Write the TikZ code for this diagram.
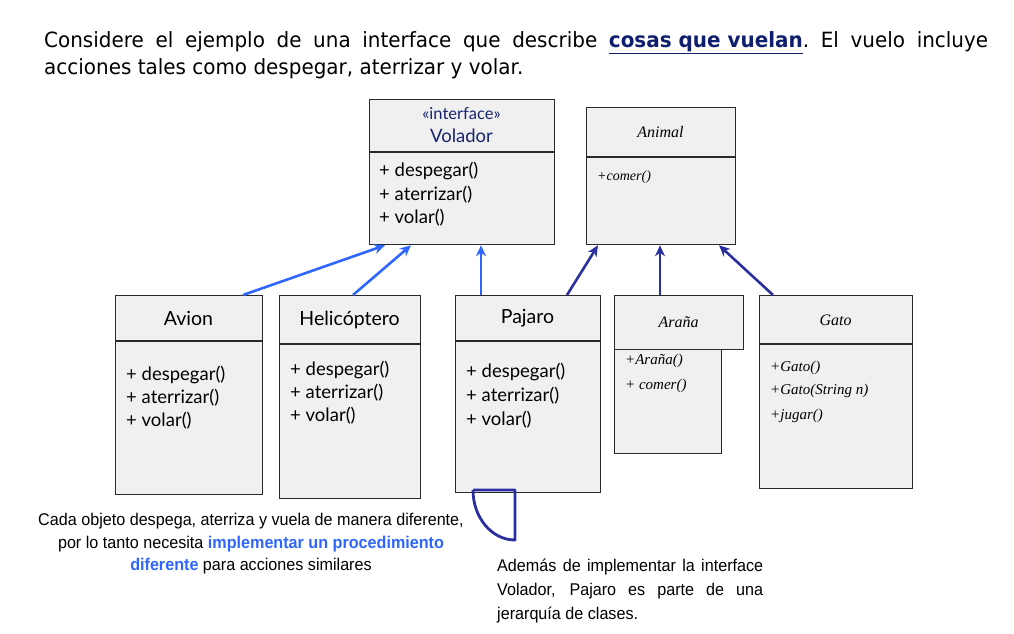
\documentclass[tikz,border=0pt]{standalone}
\usepackage{fontspec}
\setmainfont{Liberation Sans}
\newfontfamily\topfont[FakeStretch=0.95]{DejaVu Sans}
\newfontfamily\notefont[FakeStretch=0.95]{Liberation Sans}
\newfontfamily\umlfont{Lato}
\newfontfamily\handfont{Liberation Serif}
\usetikzlibrary{arrows.meta}
\definecolor{boxfill}{HTML}{F0F0F0}
\definecolor{boxline}{HTML}{2A2A2A}
\definecolor{implblue}{HTML}{2F66FF}
\definecolor{inhnavy}{HTML}{2B2E9E}
\definecolor{titlenavy}{HTML}{16256E}
\definecolor{notenavy}{HTML}{0F1F6E}
\tikzset{
  uml/.style={draw=boxline, line width=1.3pt, fill=boxfill, inner sep=0pt, anchor=north west},
  divider/.style={draw=boxline, line width=1.3pt},
  ttl/.style={inner sep=0pt, font=\umlfont\fontsize{19.5}{22}\selectfont},
  mth/.style={inner sep=0pt, anchor=west, font=\umlfont\fontsize{18.5}{20}\selectfont},
  sttl/.style={inner sep=0pt, font=\handfont\itshape\fontsize{16}{18}\selectfont},
  smth/.style={inner sep=0pt, anchor=west, font=\handfont\itshape\fontsize{15}{18}\selectfont},
  impl/.style={draw=implblue, line width=2.6pt, -{Stealth[length=11pt,width=10pt]}},
  inh/.style={draw=inhnavy, line width=2.6pt, -{Stealth[length=11pt,width=10pt]}},
}
\begin{document}
\begin{tikzpicture}[x=1pt,y=-1pt]
\useasboundingbox (0,0) rectangle (1014,634);

% top paragraph
\node[anchor=north west, inner sep=0pt, text width=944pt, align=justify,
      font=\topfont\fontsize{21}{27}\selectfont\frenchspacing] (intro) at (44,31)
  {Considere el ejemplo de una interface que describe
   {\color{notenavy}\underline{\textbf{cosas que vuelan}}}. El vuelo incluye\linebreak
   acciones tales como despegar, aterrizar y volar.};

% ---- Volador
\node[uml, minimum width=185pt, minimum height=145pt] (vol) at (369,99) {};
\draw[divider] ([yshift=-53pt]vol.north west) -- ([yshift=-53pt]vol.north east);
\node[inner sep=0pt, text=titlenavy, font=\umlfont\fontsize{16.5}{18}\selectfont] (volst) at (461.5,114) {«interface»};
\node[inner sep=0pt, text=titlenavy, font=\umlfont\fontsize{18.5}{20}\selectfont] (volt) at (461.5,136) {Volador};
\node[mth] (vm1) at (379,171) {+ despegar()};
\node[mth] (vm2) at (379,195) {+ aterrizar()};
\node[mth] (vm3) at (379,218) {+ volar()};

% ---- Animal
\node[uml, minimum width=149pt, minimum height=137pt] (ani) at (586,107) {};
\draw[divider] ([yshift=-50pt]ani.north west) -- ([yshift=-50pt]ani.north east);
\node[sttl] (anit) at (660.5,132) {Animal};
\node[smth, font=\handfont\itshape\fontsize{14}{16}\selectfont] (anm1) at (597,177) {+comer()};

% ---- Avion
\node[uml, minimum width=147pt, minimum height=199pt] (avi) at (115,295) {};
\draw[divider] ([yshift=-46pt]avi.north west) -- ([yshift=-46pt]avi.north east);
\node[ttl] (avit) at (188.5,318) {Avion};
\node[mth] (am1) at (126,375) {+ despegar()};
\node[mth] (am2) at (126,398) {+ aterrizar()};
\node[mth] (am3) at (126,421) {+ volar()};

% ---- Helicoptero
\node[uml, minimum width=141pt, minimum height=203pt] (hel) at (279,295) {};
\draw[divider] ([yshift=-49pt]hel.north west) -- ([yshift=-49pt]hel.north east);
\node[ttl] (helt) at (349.5,320) {Helicóptero};
\node[mth] (hm1) at (290,370) {+ despegar()};
\node[mth] (hm2) at (290,393) {+ aterrizar()};
\node[mth] (hm3) at (290,416) {+ volar()};

% ---- Pajaro
\node[uml, minimum width=145pt, minimum height=197pt] (paj) at (455,295) {};
\draw[divider] ([yshift=-46pt]paj.north west) -- ([yshift=-46pt]paj.north east);
\node[ttl] (pajt) at (527.5,318) {Pajaro};
\node[mth] (pm1) at (466,372) {+ despegar()};
\node[mth] (pm2) at (466,396) {+ aterrizar()};
\node[mth] (pm3) at (466,420) {+ volar()};

% ---- Arana
\node[uml, minimum width=107pt, minimum height=104pt] (arab) at (614,349) {};
\node[uml, minimum width=129pt, minimum height=54pt] (ara) at (614,295) {};
\node[sttl] (arat) at (678.5,322) {Araña};
\node[smth] (arm1) at (625,361) {+Araña()};
\node[smth] (arm2) at (625,386) {+ comer()};

% ---- Gato
\node[uml, minimum width=153pt, minimum height=193pt] (gat) at (759,295) {};
\draw[divider] ([yshift=-49pt]gat.north west) -- ([yshift=-49pt]gat.north east);
\node[sttl] (gatt) at (835.5,320) {Gato};
\node[smth] (gm1) at (770,368) {+Gato()};
\node[smth] (gm2) at (770,391) {+Gato(String n)};
\node[smth] (gm3) at (770,416) {+jugar()};

% ---- realisation arrows
\draw[impl] ([xshift=128pt]avi.north west) -- ([xshift=16pt]vol.south west);
\draw[impl] ([xshift=74pt]hel.north west) -- ([xshift=42pt]vol.south west);
\draw[impl] ([xshift=26pt]paj.north west) -- ([xshift=112pt]vol.south west);

% ---- inheritance arrows
\draw[inh] ([xshift=112pt]paj.north west) -- ([xshift=12pt]ani.south west);
\draw[inh] ([xshift=46pt]ara.north west) -- ([xshift=74pt]ani.south west);
\draw[inh] ([xshift=14pt]gat.north west) -- ([xshift=133pt]ani.south west);

% ---- quarter circle mark below Pajaro
\coordinate (qa) at (473,490);
\coordinate (qc) at (515,490);
\coordinate (qb) at (515,540);
\draw[draw=inhnavy, line width=2.8pt, line join=round] (qa) -- (qc) -- (qb)
  arc[start angle=270, end angle=180, x radius=42pt, y radius=50pt];

% ---- notes
\node[anchor=north, inner sep=0pt, align=center,
      font=\notefont\fontsize{17}{22.5}\selectfont] (note1) at (251,513)
  {Cada objeto despega, aterriza y vuela de manera diferente,\\
   por lo tanto necesita {\color{implblue}\bfseries implementar un procedimiento}\\
   {\color{implblue}\bfseries diferente} para acciones similares};

\node[anchor=north west, inner sep=0pt, text width=266pt, align=justify,
      font=\notefont\fontsize{17}{24}\selectfont] (note2) at (497,559)
  {Además de implementar la interface\linebreak
   Volador, Pajaro es parte de una\linebreak
   jerarquía de clases.};
\end{tikzpicture}
\end{document}
